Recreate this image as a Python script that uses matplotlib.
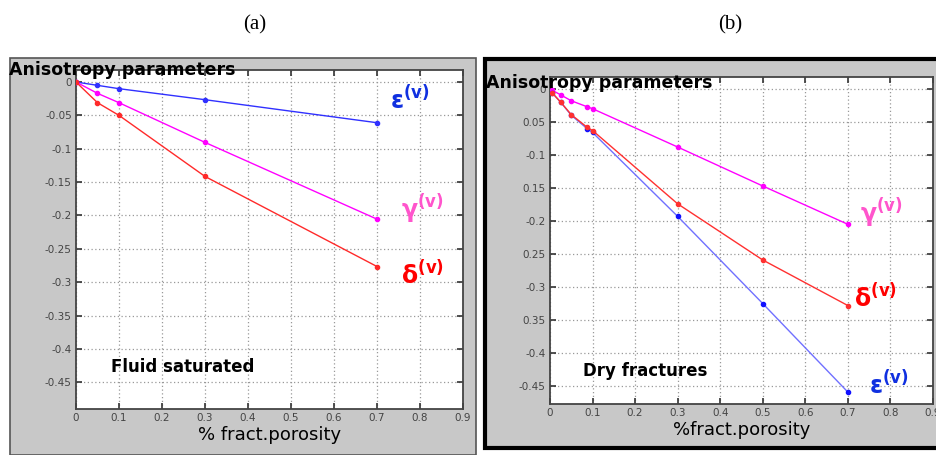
import matplotlib
matplotlib.use("Agg")
import matplotlib.pyplot as plt
from matplotlib.patches import Rectangle

# ---- data ----
x_a = [0, 0.05, 0.1, 0.3, 0.7]
eps_a = [0, -0.005, -0.01, -0.0265, -0.061]
gam_a = [0, -0.017, -0.031, -0.0905, -0.2055]
del_a = [0, -0.031, -0.05, -0.1415, -0.2765]

x_b = [0.005, 0.025, 0.05, 0.087, 0.1, 0.3, 0.5, 0.7]
gam_b = [-0.002, -0.009, -0.018, -0.027, -0.03, -0.088, -0.147, -0.205]
del_b = [-0.006, -0.02, -0.039, -0.058, -0.063, -0.174, -0.259, -0.328]
eps_b = [-0.006, -0.02, -0.04, -0.06, -0.066, -0.193, -0.325, -0.459]

xticks = [0, 0.1, 0.2, 0.3, 0.4, 0.5, 0.6, 0.7, 0.8, 0.9]
xtick_labels = ['0', '0.1', '0.2', '0.3', '0.4', '0.5', '0.6', '0.7', '0.8', '0.9']
yticks = [0, -0.05, -0.1, -0.15, -0.2, -0.25, -0.3, -0.35, -0.4, -0.45]
ytick_labels_a = ['0', '-0.05', '-0.1', '-0.15', '-0.2', '-0.25', '-0.3', '-0.35', '-0.4', '-0.45']
ytick_labels_b = ['0', '0.05', '-0.1', '0.15', '-0.2', '0.25', '-0.3', '0.35', '-0.4', '-0.45']

W, H = 937, 455
fig = plt.figure(figsize=(W / 100, H / 100), dpi=100)
fig.patch.set_facecolor('white')

gray = '#c8c8c8'

def fx(px):
    return px / W

def fy(py):
    return 1 - py / H

# panel backgrounds
fig.patches.append(Rectangle((fx(10), fy(455)), fx(476) - fx(10), fy(58) - fy(455),
                             transform=fig.transFigure, facecolor=gray,
                             edgecolor='#555555', linewidth=1.2, zorder=-5))
fig.patches.append(Rectangle((fx(485), fy(448)), fx(940) - fx(485), fy(59) - fy(448),
                             transform=fig.transFigure, facecolor=gray,
                             edgecolor='black', linewidth=3.0, zorder=-5))

ax_a = fig.add_axes([fx(76), fy(409), fx(463) - fx(76), fy(70) - fy(409)])
ax_b = fig.add_axes([fx(550), fy(404), fx(933) - fx(550), fy(77) - fy(404)])

def style(ax, ylabels, ybot, ytop):
    ax.set_facecolor('white')
    ax.set_xlim(0, 0.9)
    ax.set_ylim(ybot, ytop)
    ax.set_xticks(xticks)
    ax.set_xticklabels(xtick_labels)
    ax.set_yticks(yticks)
    ax.set_yticklabels(ylabels)
    ax.tick_params(direction='in', length=4, width=1.2, colors='#333333',
                   labelsize=7.5, labelcolor='#444444', top=True, right=True, pad=3)
    ax.grid(True, linestyle=(0, (1, 2)), color='#999999', linewidth=0.9)
    for s in ax.spines.values():
        s.set_color('#444444')
        s.set_linewidth(1.3)

style(ax_a, ytick_labels_a, -0.49, 0.018)
style(ax_b, ytick_labels_b, -0.477, 0.018)

# panel (a)
ax_a.plot(x_a, eps_a, color='#3030ff', lw=1.0, marker='o', ms=3, zorder=3)
ax_a.plot(x_a, gam_a, color='#ff00ff', lw=1.0, marker='o', ms=3, zorder=3)
ax_a.plot(x_a, del_a, color='#ff2a2a', lw=1.0, marker='o', ms=3, zorder=3)

# panel (b)
ax_b.plot(x_b, gam_b, color='#ff00ff', lw=1.0, marker='o', ms=3, zorder=3)
ax_b.plot(x_b, eps_b, color='#7070ff', lw=1.0, marker='o', ms=3, mfc='#1010ff', mec='#1010ff', zorder=3)
ax_b.plot(x_b, del_b, color='#ff3030', lw=1.0, marker='o', ms=3, zorder=4)

lab_kw = dict(fontsize=17, fontweight='bold', va='center', ha='left', clip_on=False)
ax_a.text(0.73, -0.027, r'$\mathbf{\varepsilon^{(v)}}$', color='#1030e0', **lab_kw)
ax_a.text(0.755, -0.19, r'$\mathbf{\gamma^{(v)}}$', color='#ff55cc', **lab_kw)
ax_a.text(0.755, -0.289, r'$\mathbf{\delta^{(v)}}$', color='#ff0000', **lab_kw)

ax_b.text(0.728, -0.188, r'$\mathbf{\gamma^{(v)}}$', color='#ff55cc', **lab_kw)
ax_b.text(0.714, -0.317, r'$\mathbf{\delta^{(v)}}$', color='#ff0000', **lab_kw)
ax_b.text(0.75, -0.448, r'$\mathbf{\varepsilon^{(v)}}$', color='#1030e0', **lab_kw)

ax_a.text(0.081, -0.427, 'Fluid saturated', fontsize=12, fontweight='bold',
          va='center', ha='left')
ax_b.text(0.078, -0.427, 'Dry fractures', fontsize=12, fontweight='bold',
          va='center', ha='left')

ax_a.set_xlabel('% fract.porosity', fontsize=13, labelpad=2)
ax_b.set_xlabel('%fract.porosity', fontsize=13, labelpad=2)

fig.text(fx(9), fy(70), 'Anisotropy parameters', fontsize=12.5, fontweight='bold',
         va='center', ha='left', zorder=10)
fig.text(fx(486), fy(83), 'Anisotropy parameters', fontsize=12.5, fontweight='bold',
         va='center', ha='left', zorder=10)

fig.text(fx(255), fy(25), '(a)', fontsize=15, family='Liberation Serif', ha='center', va='center')
fig.text(fx(730), fy(25), '(b)', fontsize=15, family='Liberation Serif', ha='center', va='center')

fig.savefig('out.png', dpi=100)
